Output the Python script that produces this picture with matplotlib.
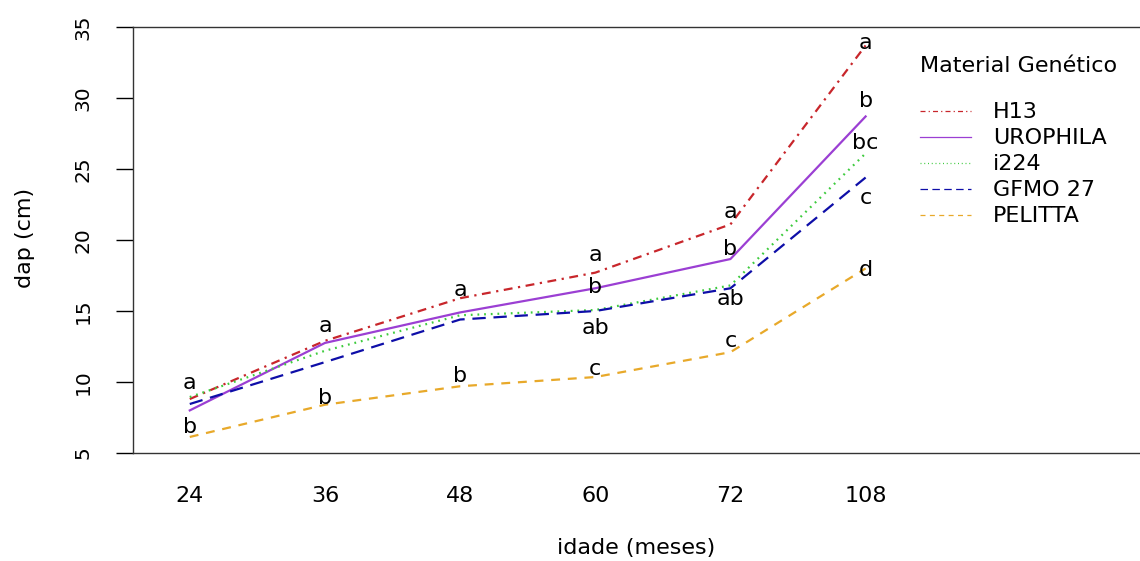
import matplotlib
matplotlib.use("Agg")
import matplotlib.pyplot as plt

plt.rcParams["font.family"] = ["DejaVu Sans"]

idade = ["24", "36", "48", "60", "72", "108"]

h13 = [8.8, 12.9, 15.9, 17.7, 21.1, 33.7]
urophila = [8.0, 12.75, 14.9, 16.6, 18.66, 28.7]
i224 = [8.94, 12.2, 14.7, 15.07, 16.8, 26.1]
gfmo27 = [8.45, 11.4, 14.4, 15.0, 16.6, 24.4]
pelitta = [6.13, 8.4, 9.7, 10.35, 12.1, 18.0]

# letras do teste de medias, (posicao x, y do texto, letra)
letras = [
    (0, 9.93, "a"), (0, 6.83, "b"),
    (1, 13.94, "a"), (1, 8.87, "b"),
    (2, 16.48, "a"), (2, 10.42, "b"),
    (3, 18.94, "a"), (3, 16.69, "b"), (3, 13.8, "ab"), (3, 10.92, "c"),
    (4, 21.97, "a"), (4, 19.37, "b"), (4, 15.85, "ab"), (4, 12.89, "c"),
    (5, 33.87, "a"), (5, 29.79, "b"), (5, 26.83, "bc"), (5, 22.96, "c"), (5, 17.89, "d"),
]

series = [
    ("H13", h13, "#C8262B", (0, (4, 2.5, 1, 2.5))),
    ("UROPHILA", urophila, "#9B3FD3", "-"),
    ("i224", i224, "#3DCB3D", (0, (0.8, 2.2))),
    ("GFMO 27", gfmo27, "#0E0EA8", (0, (6, 3.5))),
    ("PELITTA", pelitta, "#E8A92A", (0, (4, 3.5))),
]

fig = plt.figure(figsize=(11.4, 5.61), dpi=100)
ax = fig.add_axes([133 / 1140, 1 - 453 / 561, 1 - 133 / 1140, (453 - 27) / 561])

x = list(range(len(idade)))
for nome, vals, cor, estilo in series:
    ax.plot(x, vals, color=cor, linestyle=estilo, linewidth=1.6, label=nome)

for xi, yi, txt in letras:
    ax.text(xi, yi, txt, ha="center", va="center", fontsize=16, color="black")

ax.set_xlim(-0.42, 7.03)
ax.set_ylim(5, 35)
ax.set_yticks([5, 10, 15, 20, 25, 30, 35])
ax.set_xticks(x)
ax.set_xticklabels(idade)
ax.tick_params(axis="x", length=0, pad=24, labelsize=16)
ax.tick_params(axis="y", length=12, width=1, pad=17, labelsize=14.5, labelrotation=90)
for lab in ax.get_yticklabels():
    lab.set_va("center")
ax.spines["right"].set_visible(False)
for s in ["left", "top", "bottom"]:
    ax.spines[s].set_color("#333333")
    ax.spines[s].set_linewidth(1.0)

ax.set_xlabel("idade (meses)", fontsize=16)
ax.xaxis.set_label_coords(0.5, -0.2)
ax.set_ylabel("dap (cm)", fontsize=16)
ax.yaxis.set_label_coords(-0.097, 0.505)

leg = ax.legend(
    title="Material Genético", loc="upper left",
    bbox_to_anchor=(900 / 1140, 1 - 36 / 561), bbox_transform=fig.transFigure,
    frameon=False, fontsize=16, title_fontsize=16, handlelength=2.3,
    handletextpad=1.0, labelspacing=0.27, alignment="left",
)
for ln in leg.get_lines():
    ln.set_linewidth(0.9)
leg._legend_box.sep = 19

fig.savefig("out.png", dpi=100)
